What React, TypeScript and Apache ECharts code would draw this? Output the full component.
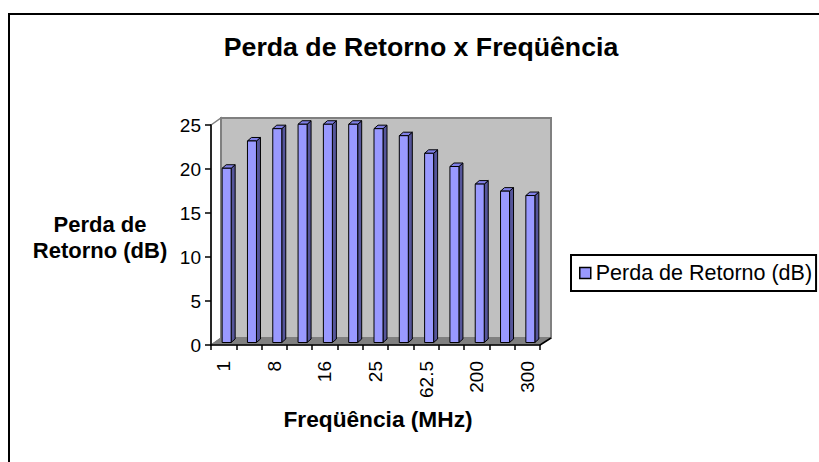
import React, { useEffect, useRef } from "react";
import * as echarts from "echarts";

const categories = ["1", "4", "8", "10", "16", "20", "25", "31.25", "62.5", "100", "200", "250", "300"];
const returnLoss = [19.8, 22.9, 24.3, 24.8, 24.8, 24.8, 24.3, 23.5, 21.5, 20.0, 18.0, 17.2, 16.7];
const seriesName = "Perda de Retorno (dB)";
const titleText = "Perda de Retorno x Freqüência";
const yAxisTitle = "Perda de\nRetorno (dB)";
const xAxisTitle = "Freqüência (MHz)";
const yMin = 0;
const yMax = 25;
const yStep = 5;

const FONT = "'Liberation Sans', Arial, sans-serif";

export default function App() {
  const ref = useRef<HTMLDivElement>(null);
  useEffect(() => {
    if (!ref.current) return;
    const chart = echarts.init(ref.current, undefined, { renderer: "svg" });
    const DX = 10;
    const DY = 7;
    const option: any = {
      animation: false,
      backgroundColor: "#ffffff",
      textStyle: { fontFamily: FONT },
      grid: { left: 211, top: 125, width: 329, height: 220, containLabel: false },
      graphic: [
        {
          type: "rect",
          shape: { x: 9, y: 14, width: 900, height: 500 },
          style: { fill: "none", stroke: "#000", lineWidth: 2 },
          silent: true,
        },
        {
          type: "text",
          x: 421,
          y: 33,
          style: {
            text: titleText,
            fontSize: 26.7,
            fontWeight: "bold",
            fontFamily: FONT,
            fill: "#000",
            align: "center",
            verticalAlign: "top",
          },
        },
        {
          type: "text",
          x: 100,
          y: 211,
          style: {
            text: yAxisTitle,
            fontSize: 22,
            fontWeight: "bold",
            fontFamily: FONT,
            fill: "#000",
            align: "center",
            verticalAlign: "top",
            lineHeight: 26,
          },
        },
        {
          type: "text",
          x: 378,
          y: 407,
          style: {
            text: xAxisTitle,
            fontSize: 22.7,
            fontWeight: "bold",
            fontFamily: FONT,
            fill: "#000",
            align: "center",
            verticalAlign: "top",
          },
        },
      ],
      legend: {
        left: 571,
        top: 255,
        data: [{ name: seriesName, icon: "rect" }],
        itemWidth: 11,
        itemHeight: 11,
        itemGap: 6,
        padding: [7, 4, 7, 8],
        borderColor: "#000",
        borderWidth: 2,
        backgroundColor: "#fff",
        textStyle: { fontSize: 21.5, color: "#000", fontFamily: FONT },
        itemStyle: { color: "#9999FF", borderColor: "#000", borderWidth: 1.5 },
        selectedMode: false,
      },
      xAxis: {
        type: "category",
        data: categories,
        boundaryGap: true,
        z: 5,
        axisLine: { lineStyle: { color: "#000", width: 1.5 } },
        axisTick: { show: true, interval: 0, length: 5, lineStyle: { color: "#000", width: 1.5 } },
        axisLabel: {
          interval: 1,
          rotate: 90,
          margin: 16,
          fontSize: 19,
          color: "#000",
          fontFamily: FONT,
          padding: [4, 0, 0, 0],
        },
        splitLine: { show: false },
      },
      yAxis: {
        type: "value",
        min: yMin,
        max: yMax,
        interval: yStep,
        z: 5,
        axisLine: { show: true, lineStyle: { color: "#000", width: 1.5 } },
        axisTick: { show: true, length: 6, lineStyle: { color: "#000", width: 1.5 } },
        axisLabel: { margin: 10, fontSize: 19, color: "#000", fontFamily: FONT },
        splitLine: { show: false },
      },
      series: [
        {
          type: "custom",
          name: "wall",
          z: 0,
          silent: true,
          clip: false,
          data: [[0, 0]],
          renderItem: (params: any, api: any) => {
            const cs = params.coordSys;
            const gx = cs.x;
            const gy = cs.y;
            const gw = cs.width;
            const gh = cs.height;
            return {
              type: "group",
              children: [
                {
                  type: "polygon",
                  shape: { points: [[gx, gy], [gx + DX, gy - DY], [gx + DX, gy + gh - DY], [gx, gy + gh]] },
                  style: { fill: "#ffffff", stroke: "#808080", lineWidth: 1.5 },
                },
                {
                  type: "rect",
                  shape: { x: gx + DX, y: gy - DY, width: gw + 1, height: gh },
                  style: { fill: "#C0C0C0", stroke: "#808080", lineWidth: 2 },
                },
                {
                  type: "polygon",
                  shape: {
                    points: [[gx, gy + gh], [gx + DX, gy + gh - DY], [gx + gw + DX + 1, gy + gh - DY], [gx + gw, gy + gh]],
                  },
                  style: { fill: "#808080", stroke: "#808080", lineWidth: 1 },
                },
                {
                  type: "line",
                  shape: { x1: gx + gw, y1: gy + gh, x2: gx + gw + DX + 1, y2: gy + gh - DY },
                  style: { stroke: "#000", lineWidth: 1.5 },
                },
              ],
            };
          },
        },
        {
          type: "custom",
          name: seriesName,
          z: 2,
          clip: false,
          itemStyle: { color: "#9999FF" },
          encode: { x: 0, y: 1 },
          data: returnLoss.map((v, i) => [i, v]),
          renderItem: (params: any, api: any) => {
            const idx = api.value(0);
            const v = api.value(1);
            const p = api.coord([idx, v]);
            const p0 = api.coord([idx, 0]);
            const cx = p[0] + 3;
            const w = 9;
            const l = cx - w / 2;
            const r = cx + w / 2;
            const t = p[1] - 2.5;
            const b = p0[1] - 2.5;
            const dx = 4;
            const dy = 3.5;
            return {
              type: "group",
              children: [
                {
                  type: "polygon",
                  shape: { points: [[r, t], [r + dx, t - dy], [r + dx, b - dy], [r, b]] },
                  style: { fill: "#55559A", stroke: "#000", lineWidth: 1 },
                },
                {
                  type: "polygon",
                  shape: { points: [[l, t], [l + dx, t - dy], [r + dx, t - dy], [r, t]] },
                  style: { fill: "#8080E6", stroke: "#000", lineWidth: 1 },
                },
                {
                  type: "rect",
                  shape: { x: l, y: t, width: w, height: b - t },
                  style: { fill: "#9999FF", stroke: "#000", lineWidth: 1 },
                },
              ],
            };
          },
        },
      ],
    };
    chart.setOption(option);
    return () => chart.dispose();
  }, []);
  return (
    <div
      ref={ref}
      style={{ position: "absolute", left: 0, top: 0, width: 819, height: 462, background: "#fff" }}
    />
  );
}
